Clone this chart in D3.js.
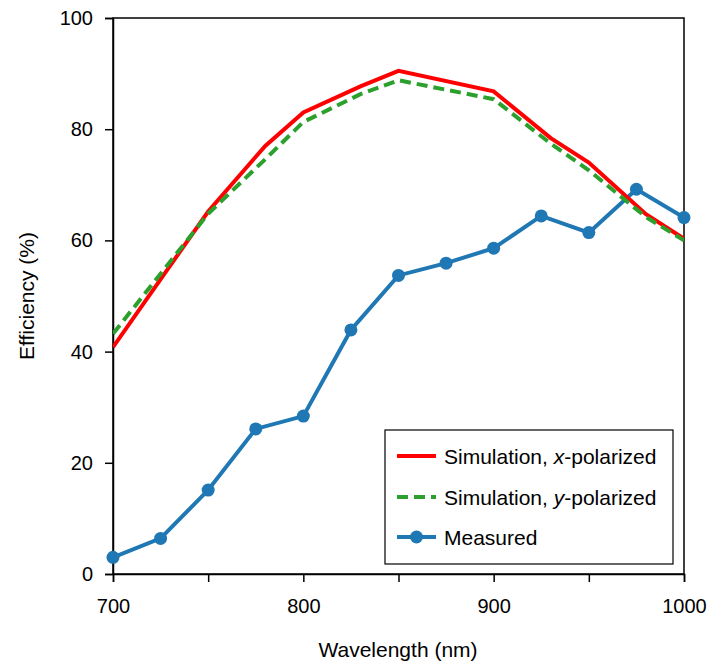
<!DOCTYPE html>
<html><head><meta charset="utf-8">
<script src="https://cdn.jsdelivr.net/npm/d3@7"></script>
<style>body{margin:0;background:#fff}svg{display:block}text{font-family:"Liberation Sans",Arial,sans-serif;fill:#000}</style>
</head><body><svg id="c" width="712" height="668"></svg>
<script>
const simWavelengths = [700, 750, 780, 800, 830, 850, 900, 930, 950, 980, 1000];
const simX = [40.8, 65.2, 77.0, 83.0, 87.7, 90.5, 86.8, 78.4, 74.0, 64.7, 60.3];
const simY = [43.2, 64.8, 74.6, 81.3, 86.3, 88.8, 85.4, 77.4, 72.6, 64.2, 60.0];
const measWavelengths = [700, 725, 750, 775, 800, 825, 850, 875, 900, 925, 950, 975, 1000];
const measured = [3.0, 6.4, 15.1, 26.1, 28.4, 43.9, 53.7, 55.9, 58.6, 64.4, 61.4, 69.2, 64.1];
const xTicks = [700, 750, 800, 850, 900, 950, 1000];
const xTickLabels = ["700", "", "800", "", "900", "", "1000"];
const yTicks = [0, 20, 40, 60, 80, 100];
const legendLabels = [["Simulation, ", "x", "-polarized"], ["Simulation, ", "y", "-polarized"], ["Measured", "", ""]];

const svg = d3.select("#c");
const L = 113, R = 684, T = 18, B = 574;
const x = d3.scaleLinear().domain([700, 1000]).range([L, R]);
const y = d3.scaleLinear().domain([0, 100]).range([B, T]);

// frame
svg.append("rect").attr("x", L).attr("y", T).attr("width", R - L).attr("height", B - T)
  .attr("fill", "none").attr("stroke", "#000").attr("stroke-width", 1.5);

const xa = svg.append("g").attr("transform", `translate(0,${B})`)
  .call(d3.axisBottom(x).tickValues(xTicks).tickSize(8).tickPadding(17).tickFormat((d, i) => xTickLabels[i]));
const ya = svg.append("g").attr("transform", `translate(${L},0)`)
  .call(d3.axisLeft(y).tickValues(yTicks).tickSize(8).tickPadding(12).tickFormat(d3.format("d")));
[xa, ya].forEach(a => {
  a.select(".domain").attr("stroke", "#000").attr("stroke-width", 1.5);
  a.selectAll(".tick line").attr("stroke", "#000").attr("stroke-width", 1.5);
  a.selectAll(".tick text").attr("font-size", 20).attr("font-family", "Liberation Sans, Arial, sans-serif").attr("fill", "#000");
});

svg.append("text").attr("x", 398).attr("y", 657).attr("text-anchor", "middle")
  .attr("font-size", 21).text("Wavelength (nm)");
svg.append("text").attr("transform", `translate(34,296) rotate(-90)`).attr("text-anchor", "middle")
  .attr("font-size", 21).text("Efficiency (%)");

const clip = svg.append("clipPath").attr("id", "cp").append("rect")
  .attr("x", L).attr("y", T).attr("width", R - L).attr("height", B - T);
const g = svg.append("g");

const line = d3.line().x(d => x(d[0])).y(d => y(d[1]));
const simXPts = simWavelengths.map((w, i) => [w, simX[i]]);
const simYPts = simWavelengths.map((w, i) => [w, simY[i]]);
const measPts = measWavelengths.map((w, i) => [w, measured[i]]);

g.append("path").datum(measPts).attr("d", line).attr("fill", "none")
  .attr("stroke", "#1f77b4").attr("stroke-width", 4).attr("clip-path", "url(#cp)");
g.append("path").datum(simXPts).attr("d", line).attr("fill", "none")
  .attr("stroke", "#ff0000").attr("stroke-width", 4).attr("clip-path", "url(#cp)");
g.append("path").datum(simYPts).attr("d", line).attr("fill", "none")
  .attr("stroke", "#2ca02c").attr("stroke-width", 4).attr("stroke-dasharray", "11,6").attr("clip-path", "url(#cp)");
g.selectAll("circle.m").data(measPts).enter().append("circle")
  .attr("cx", d => x(d[0])).attr("cy", d => y(d[1])).attr("r", 6.5).attr("fill", "#1f77b4");

// legend
const lg = svg.append("g");
lg.append("rect").attr("x", 385).attr("y", 430).attr("width", 288).attr("height", 134)
  .attr("fill", "#fff").attr("stroke", "#000").attr("stroke-width", 1.2);
const rowsY = [456, 497, 537];
const styles = [
  {c: "#ff0000", dash: null, m: false},
  {c: "#2ca02c", dash: "11,6", m: false},
  {c: "#1f77b4", dash: null, m: true}
];
legendLabels.forEach((lab, i) => {
  const st = styles[i];
  const ln = lg.append("line").attr("x1", 397).attr("x2", 436).attr("y1", rowsY[i]).attr("y2", rowsY[i])
    .attr("stroke", st.c).attr("stroke-width", 4);
  if (st.dash) ln.attr("stroke-dasharray", st.dash);
  if (st.m) lg.append("circle").attr("cx", 416.5).attr("cy", rowsY[i]).attr("r", 6.5).attr("fill", st.c);
  const t = lg.append("text").attr("x", 444).attr("y", rowsY[i] + 7.5).attr("font-size", 21);
  t.append("tspan").text(lab[0]);
  if (lab[1]) t.append("tspan").attr("font-style", "italic").text(lab[1]);
  if (lab[2]) t.append("tspan").text(lab[2]);
});
</script></body></html>
